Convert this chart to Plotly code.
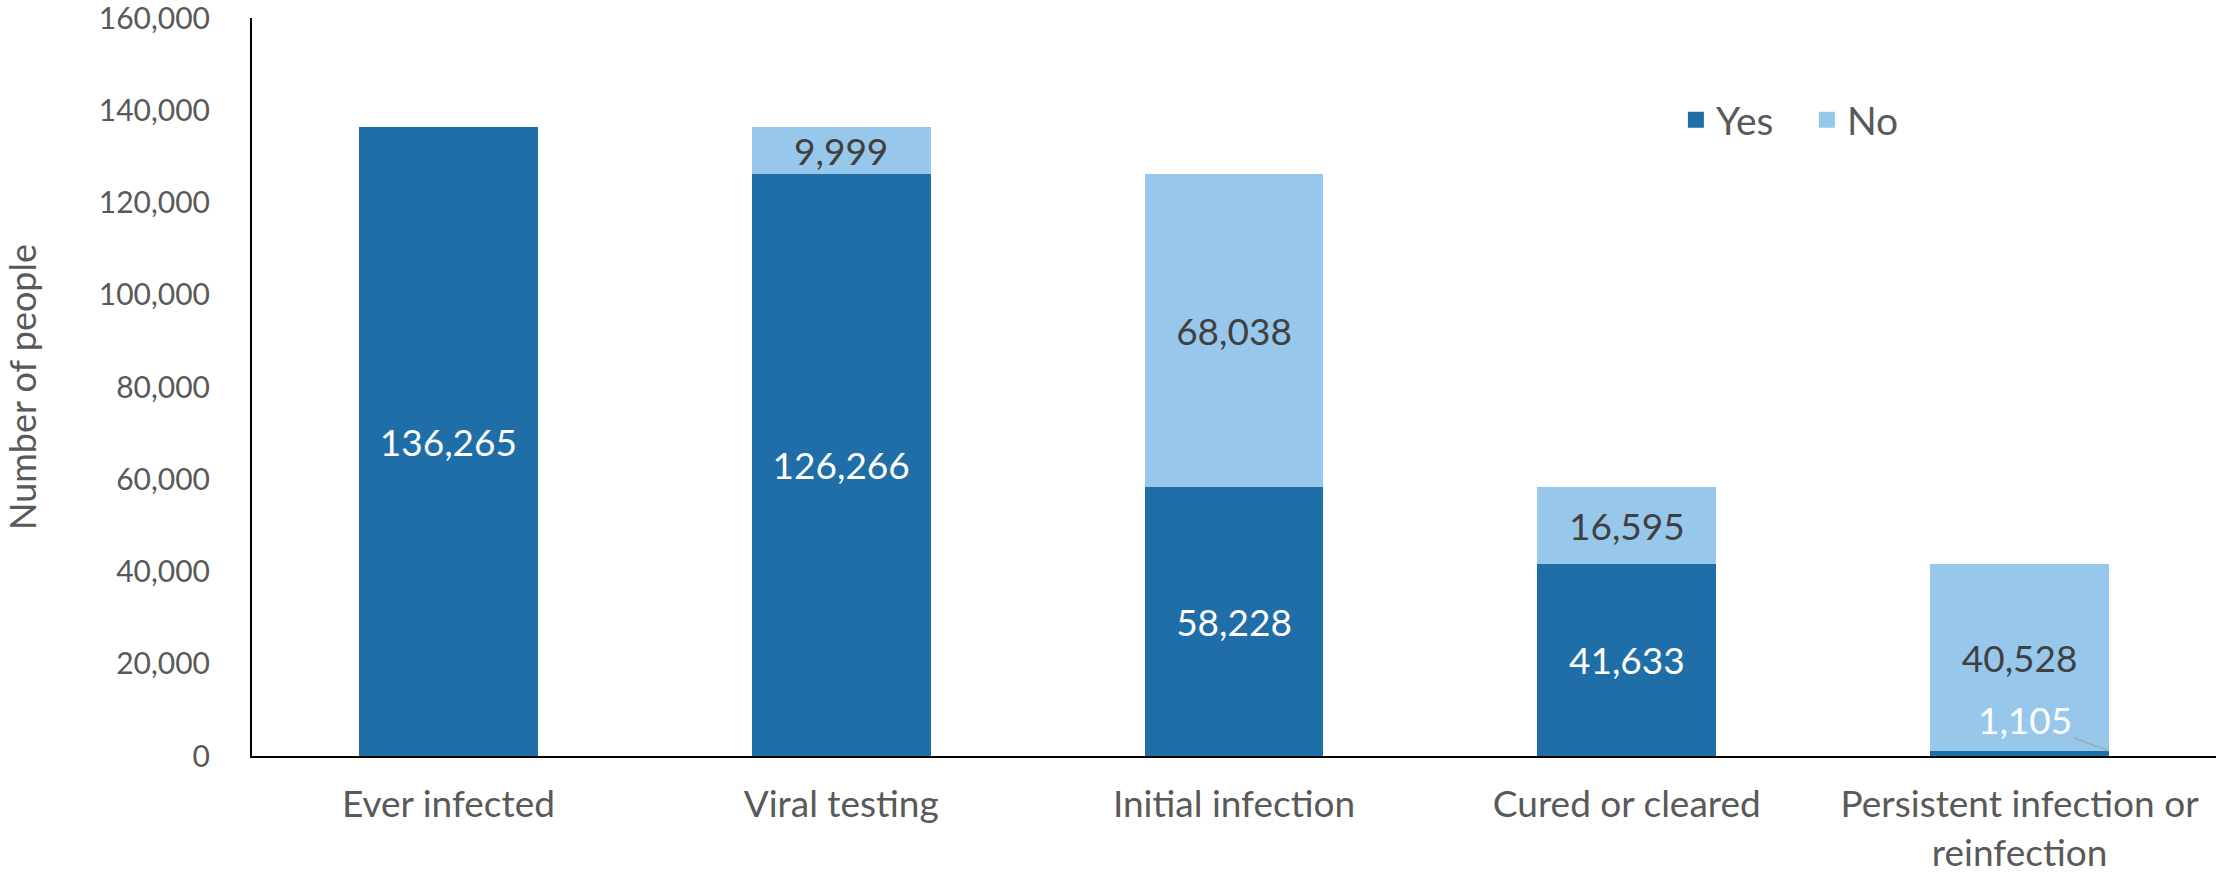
import plotly.graph_objects as go

categories = ["Ever infected", "Viral testing", "Initial infection", "Cured or cleared",
              "Persistent infection or<br>reinfection"]
yes_values = [136265, 126266, 58228, 41633, 1105]
no_values = [0, 9999, 68038, 16595, 40528]
y_ticks = [0, 20000, 40000, 60000, 80000, 100000, 120000, 140000, 160000]

YES = "#1f6ea8"
NO = "#97c8ec"
FONT = "Lato"
GREY = "#595959"

yes_text = [f"{v:,}" if i < 4 else "" for i, v in enumerate(yes_values)]
no_text = [f"{v:,}" if v > 0 else "" for v in no_values]

fig = go.Figure()
fig.add_trace(go.Bar(x=categories, y=yes_values, name="Yes", marker=dict(color=YES, line=dict(width=0)),
                     text=yes_text, textposition="inside", insidetextanchor="middle",
                     constraintext="none", textangle=0, showlegend=False,
                     textfont=dict(color="white", size=37, family=FONT), hoverinfo="skip"))
fig.add_trace(go.Bar(x=categories, y=no_values, name="No", marker=dict(color=NO, line=dict(width=0)),
                     text=no_text, textposition="inside", insidetextanchor="middle",
                     constraintext="none", textangle=0, showlegend=False,
                     textfont=dict(color="#404040", size=37, family=FONT), hoverinfo="skip"))

# legend entries with larger square swatches
for name, col in [("Yes", YES), ("No", NO)]:
    fig.add_trace(go.Scatter(x=[None], y=[None], mode="markers", name=name,
                             marker=dict(symbol="square", size=16, color=col), hoverinfo="skip"))

# leader label for the small "Yes" segment
idx = 4
fig.add_annotation(x=idx + 0.2275, y=yes_values[idx], xref="x", yref="y",
                   text=f"{yes_values[idx]:,}", showarrow=True, arrowhead=0, arrowwidth=1.5,
                   arrowcolor="#a6a6a6", ax=-84, ay=-31,
                   font=dict(color="white", size=37, family=FONT))

fig.update_layout(
    width=2216, height=879,
    barmode="stack", bargap=0.545,
    plot_bgcolor="white", paper_bgcolor="white",
    margin=dict(l=252, r=0, t=18, b=123),
    font=dict(family=FONT, color=GREY, size=30),
    showlegend=True,
    legend=dict(orientation="h", x=0.725, y=0.862, xanchor="left", yanchor="middle",
                font=dict(size=39, color=GREY), bgcolor="rgba(0,0,0,0)",
                itemwidth=30, traceorder="normal", entrywidth=86, entrywidthmode="pixels"),
    xaxis=dict(showline=True, linecolor="black", linewidth=2, ticks="", showgrid=False,
               automargin=False,
               tickfont=dict(size=37, color=GREY), ticklabelstandoff=15),
    yaxis=dict(range=[0, 160000], tickvals=y_ticks, tickformat=",d", showline=True,
               linecolor="black", linewidth=2, ticks="", showgrid=False, zeroline=False,
               automargin=False, ticklabeloverflow="allow",
               tickfont=dict(size=30, color=GREY), ticklabelstandoff=34,
               title=dict(text="Number of people", font=dict(size=36, color=GREY), standoff=54)),
)

fig.write_html("out.html", config={"displayModeBar": False},
               post_script="document.body.style.margin='0';")
